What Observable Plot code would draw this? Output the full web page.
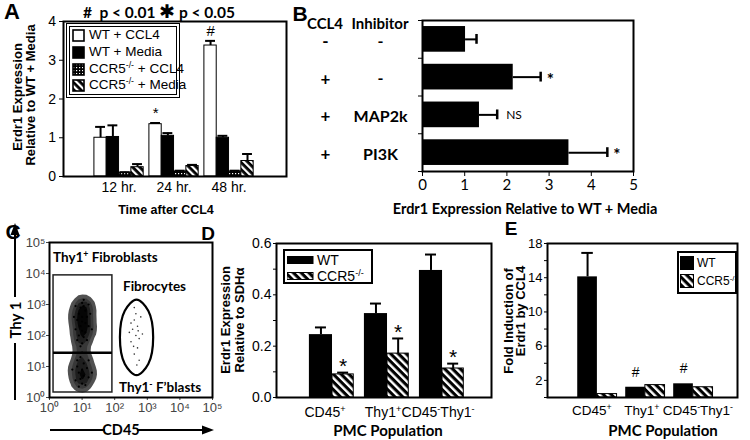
<!DOCTYPE html>
<html><head><meta charset="utf-8">
<script src="https://cdn.jsdelivr.net/npm/d3@7"></script>
<script src="https://cdn.jsdelivr.net/npm/@observablehq/plot@0.6"></script>
<style>
body{margin:0;background:#fff}
#fig{position:relative;width:750px;height:440px;overflow:hidden;background:#fff;color:#000;font-family:"Liberation Sans",Arial,sans-serif}
.abs{position:absolute;white-space:nowrap;line-height:1}
.cal{font-family:Lato,"Open Sans",sans-serif;font-weight:700}
.nar{font-family:"Liberation Sans Narrow","Liberation Sans",sans-serif}
.bold{font-weight:700}
.letter{font-family:"Liberation Sans",Arial,sans-serif;font-weight:700;font-size:21px}
sup{font-size:65%;vertical-align:0.55em;line-height:0}
.lg{position:absolute;border:2px solid #000;background:#fff;box-sizing:border-box}
</style></head><body><div id="fig"></div>
<script>
// ---------------- DATA ----------------
// Panel A
const groupsA = ["12 hr.", "24 hr.", "48 hr."];
const seriesA = ["WT + CCL4", "WT + Media", "CCR5-/- + CCL4", "CCR5-/- + Media"];
const wtCcl4A = [1.0, 1.35, 3.38];
const wtCcl4ErrA = [1.28, 1.38, 3.5];
const wtMediaA = [1.02, 1.05, 1.0];
const wtMediaErrA = [1.32, 1.12, 1.05];
const ccr5Ccl4A = [0.1, 0.13, 0.13];
const ccr5Ccl4ErrA = [0.11, 0.15, 0.15];
const ccr5MediaA = [0.24, 0.27, 0.4];
const ccr5MediaErrA = [0.32, 0.3, 0.58];
const sigA = ["", "*", "#"];
const yTicksA = [0, 1, 2, 3, 4];

// Panel B
const ccl4B = ["-", "+", "+", "+"];
const inhibitorB = ["-", "-", "MAP2k", "PI3K"];
const valuesB = [1.02, 2.15, 1.35, 3.47];
const errB = [1.28, 2.8, 1.77, 4.38];
const sigB = ["", "*", "NS", "*"];
const xTicksB = [0, 1, 2, 3, 4, 5];

// Panel C (log10 CD45, log10 Thy1) estimated event positions
const thyPts = [
 [0.95,2.9],[1.05,2.95],[1.1,2.8],[0.9,2.7],[1.0,2.6],[1.15,2.6],[0.85,2.5],[1.0,2.45],[1.1,2.4],
 [0.95,2.3],[1.2,2.3],[0.8,2.2],[1.0,2.15],[1.1,2.1],[0.9,2.0],[1.05,1.95],[0.85,1.85],[1.15,1.85],
 [1.0,1.75],[0.95,1.65],[1.25,2.7],[0.75,2.6],[1.3,2.2],[1.0,3.05],[1.2,3.0],[0.8,2.95],[1.05,3.15],
 [0.95,1.3],[1.05,1.1],[0.85,1.0],[1.0,0.9],[1.15,0.95],[0.9,0.8],[1.05,0.7],[0.95,0.6],[1.2,0.65],
 [0.8,0.55],[1.0,0.45],[1.1,0.4],[0.9,0.35],[1.3,0.8],[0.7,0.9],[1.0,1.45],[1.2,1.2],[0.85,1.2]
];
const fibroPts = [
 [2.6,2.5],[2.7,2.3],[2.55,2.2],[2.65,2.0],[2.75,1.9],[2.5,1.8],[2.7,1.6],[2.6,1.4],[2.8,2.6],
 [2.65,2.7],[2.5,2.4],[2.75,1.2],[2.6,2.9],[2.72,2.15],[2.58,1.65],[2.85,2.05],[2.45,2.1],[2.68,1.05]
];
const logTicksC = [1, 10, 100, 1000, 10000, 100000];
const thyGate = {x1: 1.33, x2: 85, y1: 1.45, y2: 8700, split: 28};
const fibroGate = [[3.18,1.94],[3.03,2.80],[2.67,3.16],[2.31,2.80],[2.16,1.94],[2.31,1.08],[2.67,0.72],[3.03,1.08]];

// Panel D
const popD = ["CD45<sup>+</sup>", "Thy1<sup>+</sup>", "CD45<sup>-</sup>Thy1<sup>-</sup>"];
const wtD = [0.245, 0.327, 0.495];
const wtErrD = [0.273, 0.366, 0.557];
const ccr5D = [0.09, 0.171, 0.113];
const ccr5ErrD = [0.097, 0.23, 0.132];
const sigD = ["*", "*", "*"];
const yTicksD = [0, 0.1, 0.2, 0.3, 0.4, 0.5, 0.6];

// Panel E
const popE = ["CD45<sup>+</sup>", "Thy1<sup>+</sup>", "CD45<sup>-</sup>Thy1<sup>-</sup>"];
const wtE = [14.1, 1.2, 1.6];
const wtErrE = [16.9, null, null];
const ccr5E = [0.4, 1.45, 1.2];
const sigE = ["", "#", "#"];
const yTicksE = [0, 2, 4, 6, 8, 10, 12, 14, 16, 18];
const yLabelsE = [2, 6, 10, 14, 18];

// ---------------- HELPERS ----------------
const fig = document.getElementById("fig");
fig.insertAdjacentHTML("beforeend", `<svg width="0" height="0" style="position:absolute">
<defs>
<pattern id="hatchA" patternUnits="userSpaceOnUse" width="5" height="5" patternTransform="rotate(-45)"><rect width="5" height="5" fill="#000"/><rect width="2.2" height="5" fill="#fff"/></pattern>
<pattern id="checkA" patternUnits="userSpaceOnUse" width="3" height="3"><rect width="3" height="3" fill="#000"/><rect x="1" y="1" width="1.2" height="1.2" fill="#fff"/></pattern>
<pattern id="hatchD" patternUnits="userSpaceOnUse" width="5.5" height="5.5" patternTransform="rotate(-45)"><rect width="5.5" height="5.5" fill="#000"/><rect width="2.4" height="5.5" fill="#fff"/></pattern>
</defs></svg>`);

function put(el, left, top, z) {
  el.style.position = "absolute"; el.style.left = left + "px"; el.style.top = top + "px";
  if (z != null) el.style.zIndex = z;
  fig.appendChild(el); return el;
}
function label(html, x, y, cls = "", css = "", rot = 0, anchor = "middle") {
  const d = document.createElement("div");
  d.className = "abs " + cls; d.innerHTML = html;
  d.style.cssText += css;
  const tx = anchor === "middle" ? "-50%" : anchor === "end" ? "-100%" : "0";
  d.style.transform = `translate(${tx},-50%)` + (rot ? ` rotate(${rot}deg)` : "");
  put(d, x, y); return d;
}
const narrow = '"Liberation Sans Narrow","Liberation Sans",sans-serif';
function style(size, extra = {}) {
  return {fontFamily: narrow, fontSize: size + "px", background: "transparent", overflow: "visible", color: "#000", ...extra};
}

// ---------------- PANEL A ----------------
const bwA = 0.224;
const fillsA = ["#fff", "#000", "url(#checkA)", "url(#hatchA)"];
const valsA = [wtCcl4A, wtMediaA, ccr5Ccl4A, ccr5MediaA];
const errsA = [wtCcl4ErrA, wtMediaErrA, ccr5Ccl4ErrA, ccr5MediaErrA];
const barsA = [];
groupsA.forEach((g, gi) => seriesA.forEach((s, si) => barsA.push({
  gi, si, x1: gi + (si - 2) * bwA, x2: gi + (si - 1) * bwA, xc: gi + (si - 1.5) * bwA,
  v: valsA[si][gi], e: errsA[si][gi]})));
const sigRowsA = groupsA.map((g, gi) => ({xc: gi - 1.5 * bwA, e: wtCcl4ErrA[gi], t: sigA[gi]}));
const plotA = Plot.plot({
  width: 258, height: 185, marginLeft: 30, marginRight: 5, marginTop: 5, marginBottom: 25,
  style: style(14),
  x: {domain: [-1.01, 3.045], axis: null},
  y: {domain: [0, 4], axis: null},
  marks: [
    Plot.axisX([0, 1, 2], {tickFormat: i => groupsA[i], tickSize: 0, tickPadding: 6, label: null, fontSize: 14}),
    Plot.axisY(yTicksA, {tickFormat: () => "", tickSize: 4, tickPadding: 3, label: null}),
    ...seriesA.map((s, si) => Plot.rect(barsA.filter(d => d.si === si), {x1: "x1", x2: "x2", y1: 0, y2: "v", fill: fillsA[si], stroke: "#000", strokeWidth: 1})),
    Plot.ruleX(barsA, {x: "xc", y1: "v", y2: "e", strokeWidth: 2}),
    Plot.ruleY(barsA, {y: "e", x1: d => d.xc - 0.09, x2: d => d.xc + 0.09, strokeWidth: 2}),
    Plot.text(sigRowsA, {x: "xc", y: "e", text: "t", dy: -10, fontSize: 15}),
    Plot.frame({strokeWidth: 2})
  ]
});
put(plotA, 33, 16, 5);
// y tick labels of A, placed with the plot's own y scale
const yScaleA = plotA.scale("y");
yTicksA.forEach(v => { const t = label(String(v), 33 + 30 - 7, 16 + yScaleA.apply(v), "nar", "font-size:14px", 0, "end"); t.style.zIndex = 20; });

// legend A
const lgA = document.createElement("div"); lgA.className = "lg";
lgA.style.cssText += "width:114px;height:75px;border:4px double #000";
put(lgA, 66, 23, 6);
const swA = [
  `<rect x="1" y="1" width="11" height="11" fill="#fff" stroke="#000" stroke-width="1.6"/>`,
  `<rect x="1" y="1" width="11" height="11" fill="#000" stroke="#000" stroke-width="1.6"/>`,
  `<rect x="1" y="1" width="11" height="11" fill="url(#checkA)" stroke="#000" stroke-width="1.6"/>`,
  `<rect x="1" y="1" width="11" height="11" fill="url(#hatchA)" stroke="#000" stroke-width="1.6"/>`];
const lgTextA = ["WT + CCL4", "WT + Media", "CCR5<sup>-/-</sup> + CCL4", "CCR5<sup>-/-</sup> + Media"];
[35, 52, 69, 85].forEach((yy, i) => {
  const s = document.createElement("div");
  s.innerHTML = `<svg width="13" height="13" style="display:block">${swA[i]}</svg>`;
  put(s, 72, yy - 6.5, 7);
  const t = label(lgTextA[i], 89, yy, "nar", "font-size:13.5px", 0, "start");
  t.style.zIndex = 7;
});

label("A", 12, 12, "letter", "font-size:22px");
label("#&nbsp; p &lt; 0.01 <span style='font-size:19px;font-family:DejaVu Sans'>\u2731</span> p &lt; 0.05", 159, 11, "cal", "font-size:15.5px");
label("Erdr1 Expression", 17, 97, "bold", "font-size:13px", -90);
label("Relative to WT + Media", 30, 95, "bold", "font-size:13px", -90);
label("Time after CCL4", 166, 210, "bold nar", "font-size:12.5px");

// ---------------- PANEL B ----------------
const rowsB = valuesB.map((v, i) => ({i, y: i + 0.5, v, e: errB[i], c: ccl4B[i], inh: inhibitorB[i], s: sigB[i]}));
const plotB = Plot.plot({
  width: 341, height: 181, marginLeft: 122, marginRight: 8, marginTop: 5, marginBottom: 25,
  style: style(15, {fontFamily: 'Lato,"Open Sans",sans-serif'}),
  x: {domain: [0, 5], ticks: xTicksB, tickFormat: d => String(d), tickSize: 5, tickPadding: 3, label: null},
  y: {domain: [0, 4], reverse: true, ticks: [0, 1, 2, 3, 4], tickFormat: () => "", tickSize: 4, label: null},
  marks: [
    Plot.rect(rowsB, {x1: 0, x2: "v", y1: d => d.y - 0.34, y2: d => d.y + 0.34, fill: "#000"}),
    Plot.ruleY(rowsB, {y: "y", x1: "v", x2: "e", strokeWidth: 2}),
    Plot.ruleX(rowsB, {x: "e", y1: d => d.y - 0.13, y2: d => d.y + 0.13, strokeWidth: 2.5}),
    Plot.text(rowsB.filter(d => d.s === "*"), {x: "e", y: "y", text: "s", dx: 6, dy: 3, textAnchor: "start", fontSize: 17, fontWeight: 700}),
    Plot.text(rowsB.filter(d => d.s === "NS"), {x: "e", y: "y", text: "s", dx: 9, textAnchor: "start", fontSize: 12}),
    Plot.text(rowsB, {x: 0, y: "y", text: "c", dx: -97, dy: 2, fontSize: 17, fontWeight: 700}),
    Plot.text(rowsB, {x: 0, y: "y", text: "inh", dx: -42, dy: 2, fontSize: 16, fontWeight: 700}),
    Plot.frame({strokeWidth: 2})
  ]
});
put(plotB, 300, 15);
label("B", 300, 13, "letter", "font-size:21px");
label("CCL4", 325, 23, "cal", "font-size:15px");
label("Inhibitor", 380, 23, "cal", "font-size:15px");
label("Erdr1 Expression Relative to WT + Media", 525, 209, "cal", "font-size:14.5px");

// ---------------- PANEL C ----------------
const sup = "\u2070\u00B9\u00B2\u00B3\u2074\u2075";
const plotC = Plot.plot({
  width: 202, height: 190, marginLeft: 29, marginRight: 10, marginTop: 10, marginBottom: 25,
  style: style(13, {color: "#444"}),
  x: {type: "log", domain: [1, 1e5], ticks: logTicksC, tickFormat: d => "10" + sup[Math.round(Math.log10(d))], tickSize: 3, tickPadding: 2, label: null},
  y: {type: "log", domain: [1, 1e5], ticks: logTicksC, tickFormat: d => "10" + sup[Math.round(Math.log10(d))], tickSize: 3, tickPadding: 1, label: null},
  color: {type: "linear", range: ["#6a6a6a", "#050505"]},
  marks: [
    Plot.density(thyPts, {x: d => 10 ** d[0], y: d => 10 ** d[1], bandwidth: 4.5, thresholds: 5, fill: "density", stroke: "none"}),
    Plot.dot(thyPts, {x: d => 10 ** d[0], y: d => 10 ** d[1], r: 1.1, fill: "#000"}),
    Plot.dot(fibroPts, {x: d => 10 ** d[0], y: d => 10 ** d[1], r: 0.8, fill: "#333"}),
    Plot.rect([thyGate], {x1: "x1", x2: "x2", y1: "y1", y2: "y2", fill: "none", stroke: "#222", strokeWidth: 1.5}),
    Plot.ruleY([thyGate], {y: "split", x1: "x1", x2: "x2", stroke: "#000", strokeWidth: 2.5}),
    Plot.line(fibroGate, {x: d => 10 ** d[0], y: d => 10 ** d[1], curve: "catmull-rom-closed", stroke: "#000", strokeWidth: 2.2}),
    Plot.frame({stroke: "#000", strokeWidth: 2})
  ]
});
put(plotC, 20, 232);
label("C", 13, 231, "letter", "font-size:21px");
label("Thy1<sup>+</sup> Fibroblasts", 53, 258, "cal", "font-size:13.5px", 0, "start");
label("Fibrocytes", 123, 287, "cal", "font-size:13.5px", 0, "start");
label("Thy1<sup>-</sup> F\u2019blasts", 119, 388, "cal", "font-size:13.5px", 0, "start");
label("Thy 1", 15, 320, "cal", "font-size:15px", -90);
label("CD45", 121, 430, "cal", "font-size:14.5px");
const arrows = document.createElement("div");
arrows.innerHTML = `<svg width="230" height="230" style="display:block;overflow:visible">
<g stroke="#000" stroke-width="2" fill="none">
<line x1="15" y1="200" x2="15" y2="143"/><line x1="15" y1="97" x2="15" y2="32"/>
<line x1="50" y1="230" x2="105" y2="230"/><line x1="137" y1="230" x2="203" y2="230"/></g>
<polygon points="15,23 10.5,35 19.5,35" fill="#000"/>
<polygon points="214,230 202,225.5 202,234.5" fill="#000"/></svg>`;
put(arrows, 0, 200);

// ---------------- PANEL D ----------------
const bwD = 0.42;
const rowsD = popD.map((p, i) => ({i, wt: wtD[i], wte: wtErrD[i], cc: ccr5D[i], cce: ccr5ErrD[i], s: sigD[i]}));
const plotD = Plot.plot({
  width: 250, height: 189, marginLeft: 30, marginRight: 5, marginTop: 5, marginBottom: 30,
  style: style(14),
  x: {domain: [-1.018, 2.89], axis: null},
  y: {domain: [0, 0.6], ticks: yTicksD, tickFormat: d => Math.round(d * 10) % 2 === 0 ? d.toFixed(1) : "", tickSize: 3, tickPadding: 2, label: null},
  marks: [
    Plot.rect(rowsD, {x1: d => d.i - bwD, x2: "i", y1: 0, y2: "wt", fill: "#000"}),
    Plot.rect(rowsD, {x1: "i", x2: d => d.i + bwD * 0.92, y1: 0, y2: "cc", fill: "url(#hatchD)", stroke: "#000", strokeWidth: 1}),
    Plot.ruleX(rowsD, {x: d => d.i - bwD / 2, y1: "wt", y2: "wte", strokeWidth: 2}),
    Plot.ruleY(rowsD, {y: "wte", x1: d => d.i - bwD / 2 - 0.1, x2: d => d.i - bwD / 2 + 0.1, strokeWidth: 2}),
    Plot.ruleX(rowsD, {x: d => d.i + bwD * 0.46, y1: "cc", y2: "cce", strokeWidth: 2}),
    Plot.ruleY(rowsD, {y: "cce", x1: d => d.i + bwD * 0.46 - 0.1, x2: d => d.i + bwD * 0.46 + 0.1, strokeWidth: 2}),
    Plot.text(rowsD, {x: d => d.i + bwD * 0.46, y: "cce", text: "s", dy: -6, fontSize: 21, fontFamily: "Liberation Sans"}),
    Plot.frame({strokeWidth: 2})
  ]
});
put(plotD, 246, 238);
const xScaleD = plotD.scale("x");
popD.forEach((p, i) => label(p, 246 + xScaleD.apply(i) + [-7, -4, -4][i], 412, "nar", "font-size:14px"));
label("D", 208, 233, "letter", "font-size:19px");
label("Erdr1 Expression", 225, 320, "bold", "font-size:13px", -90);
label("Relative to SDH\u03B1", 239, 320, "bold", "font-size:13px", -90);
label("PMC Population", 388, 430, "cal", "font-size:15px");
const lgD = document.createElement("div"); lgD.className = "lg";
lgD.style.cssText += "width:90px;height:35px";
put(lgD, 283, 249);
[[259.5, "#000", "WT"], [276, "url(#hatchD)", "CCR5<sup>-/-</sup>"]].forEach(([yy, f, t]) => {
  const s = document.createElement("div");
  s.innerHTML = `<svg width="27" height="8" style="display:block"><rect x="0" y="0.5" width="26" height="7" fill="${f}" stroke="#000" stroke-width="1"/></svg>`;
  put(s, 287, yy - 4);
  label(t, 317, yy, "nar", "font-size:14px", 0, "start");
});

// ---------------- PANEL E ----------------
const bwE = 0.41;
const rowsE = popE.map((p, i) => ({i, wt: wtE[i], wte: wtErrE[i], cc: ccr5E[i], s: sigE[i]}));
const plotE = Plot.plot({
  width: 223, height: 189, marginLeft: 28, marginRight: 5, marginTop: 5, marginBottom: 30,
  style: style(13),
  x: {domain: [-1.04, 2.92], axis: null},
  y: {domain: [0, 18], ticks: yTicksE, tickFormat: d => yLabelsE.includes(d) ? String(d) : "", tickSize: 3, tickPadding: 2, label: null},
  marks: [
    Plot.rect(rowsE, {x1: d => d.i - bwE, x2: "i", y1: 0, y2: "wt", fill: "#000"}),
    Plot.rect(rowsE, {x1: "i", x2: d => d.i + bwE, y1: 0, y2: "cc", fill: "url(#hatchD)", stroke: "#000", strokeWidth: 1}),
    Plot.ruleX(rowsE.filter(d => d.wte != null), {x: d => d.i - bwE / 2, y1: "wt", y2: "wte", strokeWidth: 2}),
    Plot.ruleY(rowsE.filter(d => d.wte != null), {y: "wte", x1: d => d.i - bwE / 2 - 0.12, x2: d => d.i - bwE / 2 + 0.12, strokeWidth: 2}),
    Plot.text(rowsE, {x: d => d.i - bwE / 2, y: "wt", text: "s", dy: -15, fontSize: 14}),
    Plot.frame({strokeWidth: 2})
  ]
});
put(plotE, 519, 238);
const xScaleE = plotE.scale("x");
popE.forEach((p, i) => label(p, 519 + xScaleE.apply(i) + [-5, -3, 5][i], 411, "nar", "font-size:13.5px"));
label("E", 511, 228, "letter", "font-size:19px");
label("Fold Induction of", 508, 321, "bold", "font-size:13px", -90);
label("Erdr1 by CCL4", 520, 311, "bold", "font-size:13px", -90);
label("PMC Population", 663, 430, "cal", "font-size:15px");
const lgE = document.createElement("div"); lgE.className = "lg";
lgE.style.cssText += "width:60px;height:43px;border-width:2.5px";
put(lgE, 677, 251);
[[262.5, "#000", "WT"], [281, "url(#hatchD)", "CCR5<sup>-/-</sup>"]].forEach(([yy, f, t]) => {
  const s = document.createElement("div");
  s.innerHTML = `<svg width="14" height="14" style="display:block"><rect x="0.5" y="0.5" width="13" height="13" fill="${f}" stroke="#000" stroke-width="1"/></svg>`;
  put(s, 680, yy - 7);
  label(t, 697, yy, "nar", "font-size:12px", 0, "start");
});
</script></body></html>
